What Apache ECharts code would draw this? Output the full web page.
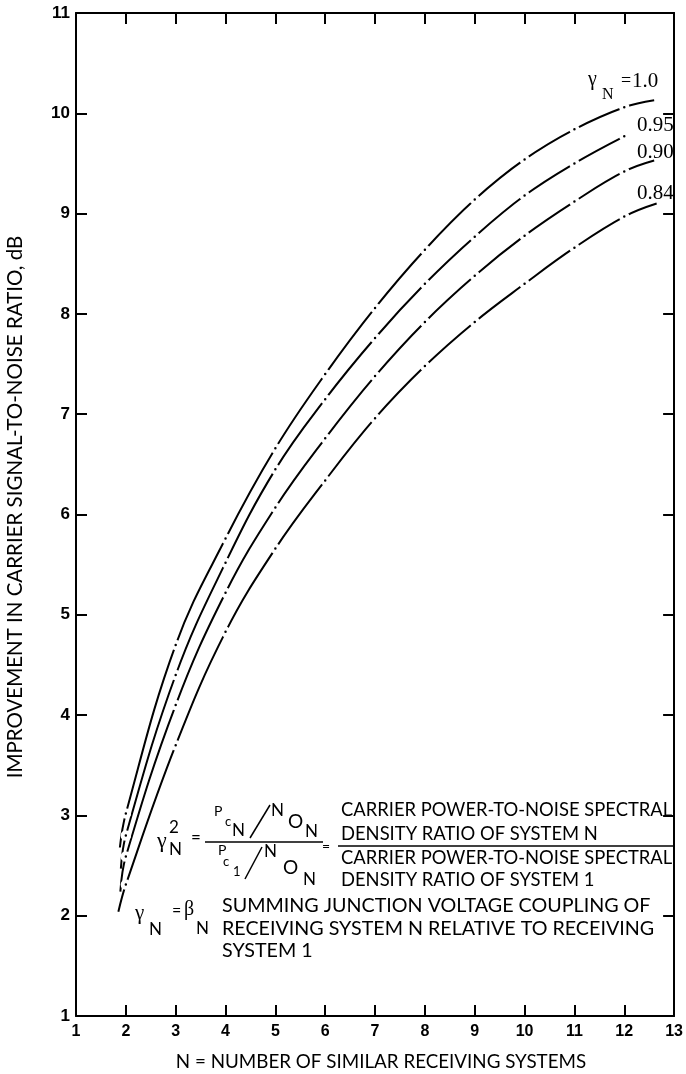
<!DOCTYPE html>
<html>
<head>
<meta charset="utf-8">
<script src="https://cdn.jsdelivr.net/npm/echarts@6/dist/echarts.min.js"></script>
<style>
html,body{margin:0;padding:0;background:#fff;}
#c{width:686px;height:1074px;}
</style>
</head>
<body>
<div id="c"></div>
<script>
// ---- data ----
const xTicks = [1, 2, 3, 4, 5, 6, 7, 8, 9, 10, 11, 12, 13];
const yTicks = [1, 2, 3, 4, 5, 6, 7, 8, 9, 10, 11];

const gammaLabels = ['1.0', '0.95', '0.90', '0.84'];

const N_100 = [1.88, 2, 3, 4, 5, 6, 7, 8, 9, 10, 11, 12, 12.6];
const V_100 = [2.68, 3.02, 4.7, 5.76, 6.66, 7.4, 8.06, 8.64, 9.14, 9.54, 9.84, 10.06, 10.13];

const N_095 = [1.9, 2, 3, 4, 5, 6, 7, 8, 9, 10, 11, 12];
const V_095 = [2.47, 2.8, 4.4, 5.52, 6.45, 7.15, 7.76, 8.3, 8.77, 9.18, 9.5, 9.77];

const N_090 = [1.89, 2, 3, 4, 5, 6, 7, 8, 9, 10, 11, 12, 12.6];
const V_090 = [2.24, 2.59, 4.1, 5.22, 6.07, 6.76, 7.38, 7.92, 8.38, 8.78, 9.12, 9.42, 9.53];

const N_084 = [1.85, 2, 3, 4, 5, 6, 7, 8, 9, 10, 11, 12, 12.65];
const V_084 = [2.04, 2.31, 3.7, 4.83, 5.66, 6.34, 6.96, 7.48, 7.92, 8.3, 8.66, 8.97, 9.1];

const xTitle = 'N = NUMBER OF SIMILAR RECEIVING SYSTEMS';
const yTitle = 'IMPROVEMENT IN CARRIER SIGNAL-TO-NOISE RATIO, dB';
const ratioLines = ['CARRIER POWER-TO-NOISE SPECTRAL', 'DENSITY RATIO OF SYSTEM N', 'CARRIER POWER-TO-NOISE SPECTRAL', 'DENSITY RATIO OF SYSTEM 1'];
const couplingLines = ['SUMMING JUNCTION VOLTAGE COUPLING OF', 'RECEIVING SYSTEM N RELATIVE TO RECEIVING', 'SYSTEM 1'];

// ---- build ----
const CAP = '"Lato", "DejaVu Sans", sans-serif';
const SERIF = '"Liberation Serif", "DejaVu Serif", serif';
const TICKF = '"Liberation Sans", Arial, sans-serif';

function curve(ns, vs) {
  return {
    type: 'line',
    smooth: 0.4,
    data: ns.map((n, i) => ({
      value: [n, vs[i]],
      symbol: Number.isInteger(n) ? 'circle' : 'none'
    })),
    symbolSize: 6.5,
    itemStyle: { color: '#000', borderColor: '#fff', borderWidth: 4 },
    lineStyle: { color: '#000', width: 2 },
    silent: true,
    animation: false
  };
}

function txt(x, y, s, font, size, extra) {
  return {
    type: 'text', x: x, y: y, silent: true,
    style: Object.assign({
      text: s, fill: '#000', fontFamily: font, fontSize: size,
      align: 'left', verticalAlign: 'middle'
    }, extra || {})
  };
}
function ln(x1, y1, x2, y2, w) {
  return { type: 'line', silent: true, shape: { x1, y1, x2, y2 }, style: { stroke: '#000', lineWidth: w || 1.5 } };
}

const graphics = [];
// curve labels
graphics.push(txt(588, 80, 'γ', SERIF, 20));
graphics.push(txt(602, 95, 'N', SERIF, 16));
graphics.push(txt(621, 81, '=', SERIF, 18));
graphics.push(txt(632, 81, gammaLabels[0], SERIF, 21));
graphics.push(txt(637, 125, gammaLabels[1], SERIF, 21));
graphics.push(txt(637, 152, gammaLabels[2], SERIF, 21));
graphics.push(txt(637, 193, gammaLabels[3], SERIF, 21));

// gamma^2 formula
graphics.push(txt(157, 841, 'γ', SERIF, 22));
graphics.push(txt(169, 828, '2', CAP, 17));
graphics.push(txt(169, 850, 'N', CAP, 17));
graphics.push(txt(191, 838, '=', CAP, 17));
graphics.push(ln(205, 842, 323, 842, 1.3));
// numerator
graphics.push(txt(214, 811, 'P', CAP, 14));
graphics.push(txt(225, 822, 'c', CAP, 13));
graphics.push(txt(232, 831, 'N', CAP, 17));
graphics.push(ln(250, 838, 270, 805, 1.5));
graphics.push(txt(271, 811, 'N', CAP, 17));
graphics.push(txt(288, 822, 'O', CAP, 19));
graphics.push(txt(305, 832, 'N', CAP, 17));
// denominator
graphics.push(txt(218, 850, 'P', CAP, 14));
graphics.push(txt(223, 862, 'c', CAP, 13));
graphics.push(txt(233, 872, '1', CAP, 13));
graphics.push(ln(245, 879, 262, 847, 1.5));
graphics.push(txt(264, 852, 'N', CAP, 17));
graphics.push(txt(283, 868, 'O', CAP, 19));
graphics.push(txt(303, 880, 'N', CAP, 17));
graphics.push(txt(322, 846, '=', CAP, 14));
// ratio description
graphics.push(txt(341, 810, ratioLines[0], CAP, 18.4));
graphics.push(txt(341, 834, ratioLines[1], CAP, 18.4));
graphics.push(ln(338, 846, 673, 846, 1.4));
graphics.push(txt(341, 858, ratioLines[2], CAP, 18.4));
graphics.push(txt(341, 880, ratioLines[3], CAP, 18.4));
// gamma_N = beta_N
graphics.push(txt(135, 913, 'γ', SERIF, 21));
graphics.push(txt(149, 930, 'N', CAP, 17));
graphics.push(txt(172, 911, '=', CAP, 16));
graphics.push(txt(184, 910, 'β', SERIF, 20));
graphics.push(txt(196, 929, 'N', CAP, 17));
graphics.push(txt(222, 906, couplingLines[0], CAP, 19.7));
graphics.push(txt(222, 929, couplingLines[1], CAP, 19.7));
graphics.push(txt(222, 951, couplingLines[2], CAP, 19.7));
// axis titles
graphics.push({
  type: 'text', x: 15, y: 507, rotation: Math.PI / 2, silent: true,
  style: { text: yTitle, fill: '#000', fontFamily: CAP, fontSize: 20.5, align: 'center', verticalAlign: 'middle' }
});
graphics.push(txt(381, 1062, xTitle, CAP, 18.8, { align: 'center' }));

const axisCommon = {
  type: 'value',
  axisLine: { show: true, onZero: false, lineStyle: { color: '#000', width: 2 } },
  axisTick: { show: true, inside: true, length: 11, lineStyle: { color: '#000', width: 2 } },
  splitLine: { show: false },
  minorTick: { show: false }
};

const chart = echarts.init(document.getElementById('c'), null, { renderer: 'canvas' });
chart.setOption({
  animation: false,
  backgroundColor: '#fff',
  grid: { left: 76, right: 9, top: 13, bottom: 58, containLabel: false },
  xAxis: [
    Object.assign({}, axisCommon, {
      position: 'bottom', min: xTicks[0], max: xTicks[xTicks.length - 1], interval: 1,
      axisLabel: { show: true, color: '#000', fontFamily: TICKF, fontWeight: 'bold', fontSize: 16, margin: 8 }
    }),
    Object.assign({}, axisCommon, {
      position: 'top', min: xTicks[0], max: xTicks[xTicks.length - 1], interval: 1,
      axisLabel: { show: false }
    })
  ],
  yAxis: [
    Object.assign({}, axisCommon, {
      position: 'left', min: yTicks[0], max: yTicks[yTicks.length - 1], interval: 1,
      axisLabel: { show: true, color: '#000', fontFamily: TICKF, fontWeight: 'bold', fontSize: 17, margin: 6 }
    }),
    Object.assign({}, axisCommon, {
      position: 'right', min: yTicks[0], max: yTicks[yTicks.length - 1], interval: 1,
      axisLabel: { show: false }
    })
  ],
  series: [curve(N_100, V_100), curve(N_095, V_095), curve(N_090, V_090), curve(N_084, V_084)],
  graphic: graphics
});
</script>
</body>
</html>
